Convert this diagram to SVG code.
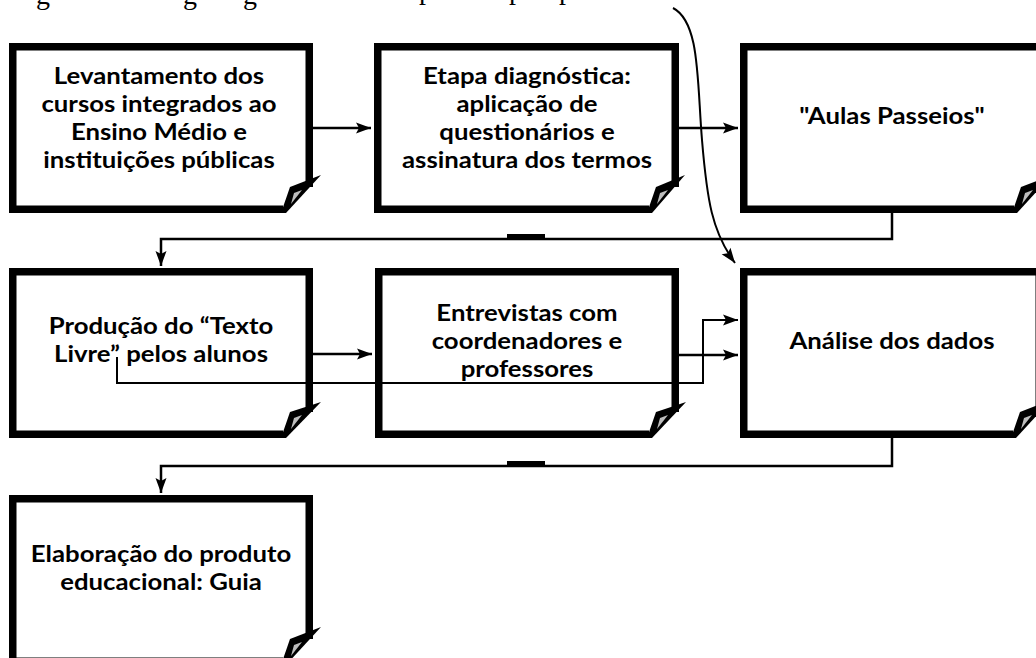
<svg xmlns="http://www.w3.org/2000/svg" width="1036" height="658" viewBox="0 0 1036 658">
<defs>
<marker id="ah" markerUnits="userSpaceOnUse" markerWidth="16" markerHeight="12" refX="15" refY="6" orient="auto" overflow="visible">
<path d="M0,0.5 L15,6 L0,11.5 L3,6 Z" fill="#000"/>
</marker>
<style>
.frame{fill:none;stroke:#000;stroke-width:7.5;stroke-linejoin:miter}
.bg{fill:#fff}
.flap{fill:#000}
.fg{fill:#bdbdbd}
.t{font-family:"Lato","Carlito","Liberation Sans",sans-serif;font-weight:bold;font-size:23px;fill:#000;text-anchor:middle}
.cap{font-family:"Liberation Serif","Times New Roman",serif;font-size:28px;fill:#000;text-anchor:middle}
.c{fill:none;stroke:#000;stroke-width:2.5}
.c2{fill:none;stroke:#000;stroke-width:2}
</style>
</defs>
<rect width="1036" height="658" fill="#fff"/>
<g id="caption">
<text class="cap" x="43" y="4">g</text>
<text class="cap" x="190" y="4">g</text>
<text class="cap" x="250" y="4">g</text>
<text class="cap" x="426" y="-1">p</text>
<text class="cap" x="516" y="-1">p</text>
<text class="cap" x="566" y="-1">p</text>
</g>
<g id="n1">
<rect class="bg" x="9" y="43" width="304" height="170"/>
<path class="frame" d="M309.25,187 V46.75 H12.75 V209.25 H283"/>
<polygon class="flap" points="281,213 290,187 321,175 286,213"/>
<polygon class="fg" points="291,204 294,193 302,190"/>
<text class="t" transform="matrix(1.12 0 0 1 159 0)"><tspan x="0" y="84">Levantamento dos</tspan><tspan x="0" y="112">cursos integrados ao</tspan><tspan x="0" y="140">Ensino Médio e</tspan><tspan x="0" y="168">instituições públicas</tspan></text>
</g>
<g id="n2">
<rect class="bg" x="374" y="43" width="305" height="170"/>
<path class="frame" d="M675.25,187 V46.75 H377.75 V209.25 H649"/>
<polygon class="flap" points="647,213 656,187 685,175 652,213"/>
<polygon class="fg" points="657,204 660,193 668,190"/>
<text class="t" transform="matrix(1.12 0 0 1 527 0)"><tspan x="0" y="84">Etapa diagnóstica:</tspan><tspan x="0" y="112">aplicação de</tspan><tspan x="0" y="140">questionários e</tspan><tspan x="0" y="168">assinatura dos termos</tspan></text>
</g>
<g id="n3">
<rect class="bg" x="740" y="43" width="304" height="170"/>
<path class="frame" d="M1040.25,187 V46.75 H743.75 V209.25 H1014"/>
<polygon class="flap" points="1012,213 1021,187 1052,175 1017,213"/>
<polygon class="fg" points="1022,204 1025,193 1033,190"/>
<text class="t" transform="matrix(1.12 0 0 1 892 0)"><tspan x="0" y="124">"Aulas Passeios"</tspan></text>
</g>
<g id="n4">
<rect class="bg" x="9" y="268" width="304" height="170"/>
<path class="frame" d="M309.25,412 V271.75 H12.75 V434.25 H283"/>
<polygon class="flap" points="281,438 290,412 321,402 286,438"/>
<polygon class="fg" points="291,429 294,418 302,415"/>
<text class="t" transform="matrix(1.12 0 0 1 161 0)"><tspan x="0" y="334">Produção do “Texto</tspan><tspan x="0" y="362">Livre” pelos alunos</tspan></text>
</g>
<g id="n5">
<rect class="bg" x="375" y="268" width="304" height="170"/>
<path class="frame" d="M675.25,412 V271.75 H378.75 V434.25 H649"/>
<polygon class="flap" points="647,438 656,412 686,402 652,438"/>
<polygon class="fg" points="657,429 660,418 668,415"/>
<text class="t" transform="matrix(1.12 0 0 1 527 0)"><tspan x="0" y="321">Entrevistas com</tspan><tspan x="0" y="349">coordenadores e</tspan><tspan x="0" y="377">professores</tspan></text>
</g>
<g id="n6">
<rect class="bg" x="740" y="268" width="303" height="170"/>
<path class="frame" d="M1039.25,412 V271.75 H743.75 V434.25 H1013"/>
<polygon class="flap" points="1011,438 1020,412 1051,400 1016,438"/>
<polygon class="fg" points="1021,429 1024,418 1032,415"/>
<text class="t" transform="matrix(1.12 0 0 1 892 0)"><tspan x="0" y="349">Análise dos dados</tspan></text>
</g>
<g id="n7">
<rect class="bg" x="9" y="495" width="304" height="170"/>
<path class="frame" d="M309.25,639 V498.75 H12.75 V661.25 H283"/>
<polygon class="flap" points="281,665 290,639 321,627 286,665"/>
<polygon class="fg" points="291,656 294,645 302,642"/>
<text class="t" transform="matrix(1.12 0 0 1 161 0)"><tspan x="0" y="562">Elaboração do produto</tspan><tspan x="0" y="590">educacional: Guia</tspan></text>
</g>
<g id="connectors">
<path class="c" d="M313,128 H371" marker-end="url(#ah)"/>
<path class="c" d="M679,128 H738" marker-end="url(#ah)"/>
<path class="c" d="M892,213 V239 H161 V266" marker-end="url(#ah)"/>
<rect x="507" y="234" width="38" height="4" fill="#000"/>
<path class="c2" d="M673,8 C700,22 697,80 702,140 C707,200 712,232 735,263" marker-end="url(#ah)"/>
<path class="c" d="M313,354 H372" marker-end="url(#ah)"/>
<path class="c" d="M679,355 H738" marker-end="url(#ah)"/>
<path class="c2" d="M117,357 V383 H703 V320 H738" marker-end="url(#ah)"/>
<path class="c" d="M892,438 V466 H161 V493" marker-end="url(#ah)"/>
<rect x="507" y="461" width="38" height="4" fill="#000"/>
</g>
</svg>
